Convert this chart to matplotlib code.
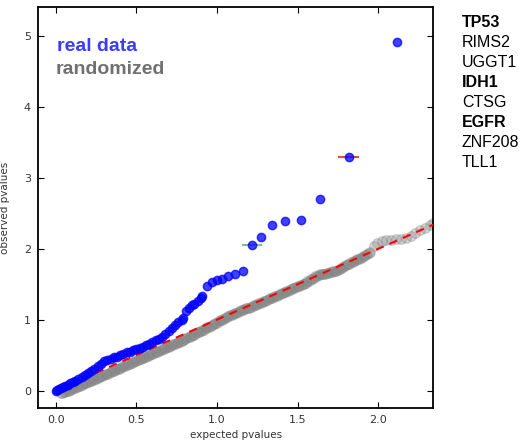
import matplotlib
matplotlib.use("Agg")
import matplotlib.pyplot as plt

# observed vs expected -log10 p-values, real data
real_x = [0.0, 0.01, 0.02, 0.03, 0.045, 0.06, 0.075, 0.09, 0.105, 0.12, 0.14, 0.16,
          0.18, 0.2, 0.22, 0.24, 0.26, 0.28, 0.3, 0.32, 0.34, 0.36, 0.38, 0.4, 0.42,
          0.44, 0.46, 0.48, 0.5, 0.52, 0.54, 0.56, 0.58, 0.6, 0.62, 0.64, 0.66, 0.68,
          0.7, 0.72, 0.74, 0.76, 0.78, 0.79, 0.81, 0.826, 0.845, 0.86, 0.88, 0.9, 0.91,
          0.94, 0.97, 1.0, 1.03, 1.07, 1.11, 1.16, 1.215, 1.27, 1.34, 1.42, 1.52,
          1.64, 1.816, 2.118]
real_y = [0.0, 0.01, 0.02, 0.03, 0.05, 0.06, 0.08, 0.1, 0.12, 0.14, 0.16, 0.19,
          0.22, 0.25, 0.27, 0.3, 0.34, 0.38, 0.41, 0.43, 0.45, 0.47, 0.48, 0.5, 0.52,
          0.54, 0.55, 0.57, 0.58, 0.6, 0.62, 0.64, 0.66, 0.69, 0.71, 0.73, 0.76, 0.8,
          0.84, 0.88, 0.93, 0.97, 0.99, 1.02, 1.12, 1.17, 1.2, 1.22, 1.27, 1.3, 1.33,
          1.48, 1.53, 1.56, 1.57, 1.62, 1.65, 1.69, 2.06, 2.16, 2.34, 2.39, 2.40,
          2.70, 3.30, 4.91]

# randomized labels
rand_x = [0.03, 0.04, 0.05, 0.06, 0.07, 0.08, 0.09, 0.10, 0.11, 0.12,
          0.13, 0.14, 0.15, 0.16, 0.17, 0.18, 0.19, 0.20, 0.21, 0.22,
          0.23, 0.24, 0.25, 0.26, 0.27, 0.28, 0.29, 0.30, 0.31, 0.32,
          0.33, 0.34, 0.35, 0.36, 0.37, 0.38, 0.39, 0.40, 0.41, 0.42,
          0.43, 0.44, 0.45, 0.46, 0.47, 0.48, 0.49, 0.50, 0.51, 0.52,
          0.53, 0.54, 0.55, 0.56, 0.57, 0.58, 0.59, 0.60, 0.61, 0.62,
          0.63, 0.64, 0.65, 0.66, 0.67, 0.68, 0.69, 0.70, 0.71, 0.72,
          0.73, 0.74, 0.75, 0.76, 0.77, 0.78, 0.79, 0.80, 0.81, 0.82,
          0.83, 0.84, 0.85, 0.86, 0.87, 0.88, 0.89, 0.90, 0.91, 0.92,
          0.93, 0.94, 0.95, 0.96, 0.97, 0.98, 0.99, 1.00, 1.01, 1.02,
          1.03, 1.04, 1.05, 1.06, 1.07, 1.08, 1.09, 1.10, 1.11, 1.12,
          1.13, 1.14, 1.15, 1.16, 1.17, 1.18, 1.19, 1.20, 1.21, 1.22,
          1.23, 1.24, 1.25, 1.26, 1.27, 1.28, 1.29, 1.30, 1.31, 1.32,
          1.33, 1.34, 1.35, 1.36, 1.37, 1.38, 1.39, 1.40, 1.41, 1.42,
          1.43, 1.44, 1.45, 1.46, 1.47, 1.48, 1.49, 1.50, 1.51, 1.52,
          1.53, 1.54, 1.55, 1.56, 1.57, 1.58, 1.59, 1.60, 1.61, 1.62,
          1.63, 1.64, 1.65, 1.66, 1.67, 1.68, 1.69, 1.70, 1.71, 1.72,
          1.73, 1.74, 1.75, 1.76, 1.77, 1.78, 1.79, 1.80, 1.81, 1.82,
          1.83, 1.84, 1.85, 1.86, 1.87, 1.88, 1.89, 1.90, 1.91, 1.92,
          1.93, 1.94, 1.95,
          1.97, 1.99, 2.02, 2.05, 2.08, 2.11, 2.14, 2.17, 2.20, 2.23,
          2.26, 2.29, 2.32, 2.34]
rand_y = [-0.04, -0.03, -0.02, -0.02, -0.01, 0.00, 0.01, 0.02, 0.03, 0.04,
          0.05, 0.06, 0.07, 0.08, 0.09, 0.10, 0.11, 0.12, 0.13, 0.14,
          0.15, 0.16, 0.17, 0.18, 0.19, 0.20, 0.21, 0.22, 0.23, 0.24,
          0.25, 0.26, 0.27, 0.28, 0.29, 0.30, 0.31, 0.32, 0.33, 0.34,
          0.35, 0.36, 0.37, 0.38, 0.39, 0.40, 0.41, 0.42, 0.43, 0.44,
          0.45, 0.46, 0.47, 0.48, 0.49, 0.50, 0.51, 0.52, 0.53, 0.54,
          0.55, 0.56, 0.57, 0.58, 0.59, 0.60, 0.61, 0.62, 0.63, 0.64,
          0.65, 0.66, 0.67, 0.68, 0.69, 0.70, 0.71, 0.73, 0.74, 0.75,
          0.76, 0.77, 0.78, 0.79, 0.81, 0.82, 0.83, 0.84, 0.85, 0.86,
          0.88, 0.89, 0.90, 0.91, 0.93, 0.94, 0.95, 0.96, 0.98, 0.99,
          1.00, 1.01, 1.03, 1.04, 1.05, 1.06, 1.07, 1.08, 1.09, 1.10,
          1.11, 1.12, 1.13, 1.14, 1.15, 1.16, 1.16, 1.17, 1.18, 1.19,
          1.20, 1.21, 1.22, 1.23, 1.24, 1.25, 1.26, 1.27, 1.28, 1.29,
          1.30, 1.31, 1.32, 1.33, 1.34, 1.35, 1.36, 1.37, 1.38, 1.39,
          1.40, 1.41, 1.42, 1.43, 1.44, 1.45, 1.46, 1.47, 1.48, 1.49,
          1.50, 1.51, 1.52, 1.54, 1.55, 1.57, 1.58, 1.59, 1.61, 1.62,
          1.63, 1.64, 1.64, 1.65, 1.65, 1.66, 1.66, 1.67, 1.67, 1.68,
          1.68, 1.69, 1.70, 1.71, 1.73, 1.74, 1.76, 1.77, 1.78, 1.79,
          1.81, 1.82, 1.83, 1.84, 1.85, 1.86, 1.87, 1.88, 1.90, 1.91,
          1.93, 1.94, 1.96,
          2.04, 2.08, 2.11, 2.13, 2.13, 2.14, 2.14, 2.15, 2.18, 2.22,
          2.26, 2.29, 2.33, 2.36]

# highlighted genes with horizontal error bars
err_x = [1.215, 1.816]
err_y = [2.06, 3.30]
err_w = [0.062, 0.065]
err_colors = ["#4caf50", "red"]

genes = ["TP53", "RIMS2", "UGGT1", "IDH1", "CTSG", "EGFR", "ZNF208", "TLL1"]
bold_genes = ["TP53", "IDH1", "EGFR"]

diag = [0, 2.34]


def make_plot():
    fig = plt.figure(figsize=(5.27, 4.41), dpi=100)
    ax = fig.add_axes([0.072, 0.075, 0.75, 0.909])

    ax.plot(rand_x, rand_y, "o", color="gray", alpha=0.3, ms=7, mec="gray", zorder=2)
    ax.plot(diag, diag, "--", color="red", lw=1.5, dashes=(4, 3), zorder=3)
    for x, y, w, c in zip(err_x, err_y, err_w, err_colors):
        ax.errorbar(x, y, xerr=w, color=c, lw=1.5, alpha=0.75, capsize=0, zorder=3)
    ax.plot(real_x, real_y, "o", color="blue", alpha=0.75, ms=6, mec="blue", zorder=4)

    ax.set_xlim(-0.11, 2.34)
    ax.set_ylim(-0.245, 5.41)
    ax.set_xticks([0.0, 0.5, 1.0, 1.5, 2.0])
    ax.set_xticklabels(["0.0", "0.5", "1.0", "1.5", "2.0"])
    ax.set_yticks([0, 1, 2, 3, 4, 5])
    ax.tick_params(direction="in", top=True, right=True, length=4, width=0.8,
                   labelsize=8, labelcolor="#333333", pad=5)
    for s in ax.spines.values():
        s.set_linewidth(1.3)

    ax.set_xlabel("expected pvalues", fontsize=7.5, color="#333333", labelpad=4)
    ax.set_ylabel("observed pvalues", fontsize=7.5, color="#333333", labelpad=10)

    ax.text(0.047, 0.891, "real data", transform=ax.transAxes, fontsize=14,
            fontweight="bold", color="#3b3bff", family="Liberation Sans")
    ax.text(0.045, 0.832, "randomized", transform=ax.transAxes, fontsize=14,
            fontweight="bold", color="#707070", family="Liberation Sans")

    for i, g in enumerate(genes):
        fig.text(462 / 527, 1 - (27 + 20 * i) / 441, g, fontsize=11.5,
                 family="Liberation Sans", va="baseline",
                 fontweight="bold" if g in bold_genes else "normal")

    fig.savefig("out.png", dpi=100)


if __name__ == "__main__":
    make_plot()
